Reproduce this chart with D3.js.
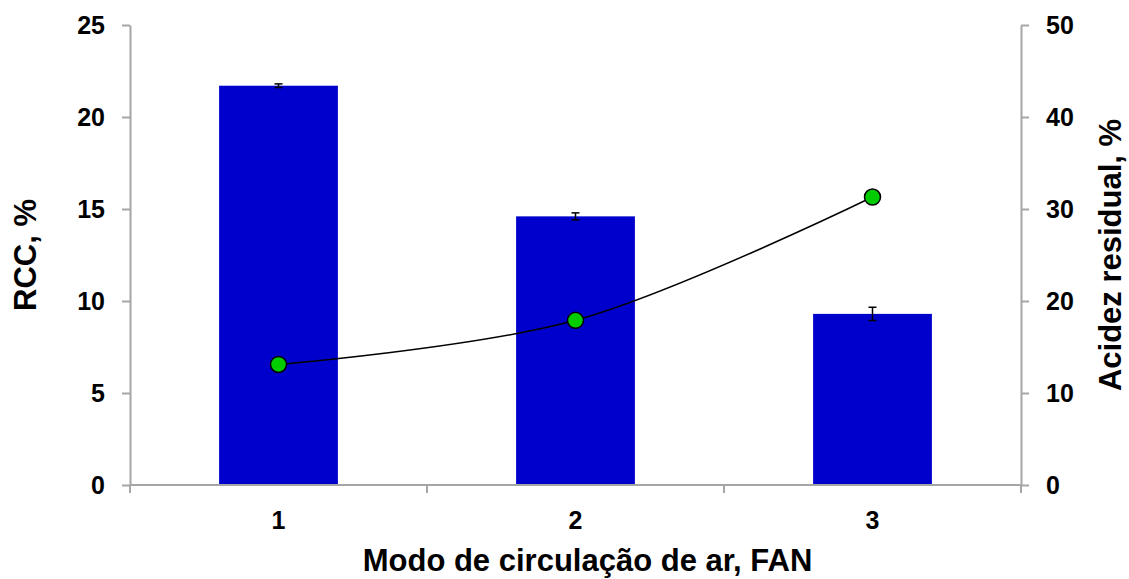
<!DOCTYPE html>
<html>
<head>
<script src="https://d3js.org/d3.v7.min.js"></script>
<style>
  body { margin: 0; background: #fff; font-family: "Liberation Sans", Arial, sans-serif; }
  .axis text { font-family: "Liberation Sans", Arial, sans-serif; font-weight: bold; font-size: 25px; fill: #000; }
  .axis path, .axis line { stroke: #a6a6a6; stroke-width: 2; }
</style>
</head>
<body>
<svg id="chart" width="1129" height="579"></svg>
<script>
// data
const modes = ["1", "2", "3"];
const rcc = [21.7, 14.6, 9.3];
const rccErr = [0.1, 0.19, 0.36];
const acidez = [13.1, 17.9, 31.3];
const leftTicks = [0, 5, 10, 15, 20, 25];
const rightTicks = [0, 10, 20, 30, 40, 50];

const svg = d3.select("#chart");
const pLeft = 130, pRight = 1021, pTop = 25, pBottom = 485;

const x = d3.scaleBand().domain(modes).range([pLeft, pRight]).padding(0);
const yL = d3.scaleLinear().domain([0, 25]).range([pBottom, pTop]);
const yR = d3.scaleLinear().domain([0, 50]).range([pBottom, pTop]);

// bars
const barW = x.bandwidth() * 0.4;
svg.append("g").selectAll("rect").data(rcc).enter().append("rect")
  .attr("x", (d, i) => x(modes[i]) + (x.bandwidth() - barW) / 2)
  .attr("y", d => yL(d))
  .attr("width", barW)
  .attr("height", d => pBottom - yL(d))
  .attr("fill", "#0000cc");

// error bars
const eb = svg.append("g").attr("stroke", "#000").attr("stroke-width", 1.5);
rcc.forEach((d, i) => {
  const cx = x(modes[i]) + x.bandwidth() / 2;
  eb.append("line").attr("x1", cx).attr("x2", cx).attr("y1", yL(d + rccErr[i])).attr("y2", yL(d - rccErr[i]));
  eb.append("line").attr("x1", cx - 4).attr("x2", cx + 4).attr("y1", yL(d + rccErr[i])).attr("y2", yL(d + rccErr[i]));
  eb.append("line").attr("x1", cx - 4).attr("x2", cx + 4).attr("y1", yL(d - rccErr[i])).attr("y2", yL(d - rccErr[i]));
});

// axes
svg.append("g").attr("class", "axis")
  .attr("transform", `translate(${pLeft},0)`)
  .call(d3.axisLeft(yL).tickValues(leftTicks).tickSize(8).tickSizeOuter(0).tickPadding(17));

svg.append("g").attr("class", "axis")
  .attr("transform", `translate(${pRight},0)`)
  .call(d3.axisRight(yR).tickValues(rightTicks).tickSize(8).tickSizeOuter(0).tickPadding(17));

const xAxis = svg.append("g").attr("class", "axis")
  .attr("transform", `translate(0,${pBottom})`);
xAxis.append("line").attr("x1", pLeft).attr("x2", pRight).attr("y1", 0).attr("y2", 0);
const bounds = [pLeft].concat(modes.map(m => x(m) + x.bandwidth()));
xAxis.selectAll(".bt").data(bounds).enter().append("line")
  .attr("x1", d => d).attr("x2", d => d).attr("y1", 0).attr("y2", 8);
xAxis.selectAll(".lbl").data(modes).enter().append("text")
  .attr("x", d => x(d) + x.bandwidth() / 2)
  .attr("y", 44)
  .attr("text-anchor", "middle")
  .text(d => d);

// line series on right axis
const pts = acidez.map((v, i) => [x(modes[i]) + x.bandwidth() / 2, yR(v)]);
svg.append("path")
  .attr("d", d3.line().curve(d3.curveCatmullRom.alpha(0.5))(pts))
  .attr("fill", "none").attr("stroke", "#000").attr("stroke-width", 1.5);
svg.append("g").selectAll("circle").data(pts).enter().append("circle")
  .attr("cx", d => d[0]).attr("cy", d => d[1]).attr("r", 8)
  .attr("fill", "#00cc00").attr("stroke", "#000").attr("stroke-width", 1.5);

// titles
const tstyle = s => s.attr("font-weight", "bold").attr("font-size", "31px")
  .attr("font-family", "Liberation Sans, Arial, sans-serif").attr("text-anchor", "middle");
svg.append("text").call(tstyle)
  .attr("transform", `translate(36,${(pTop + pBottom) / 2}) rotate(-90)`)
  .text("RCC, %");
svg.append("text").call(tstyle)
  .attr("transform", `translate(1121,${(pTop + pBottom) / 2}) rotate(-90)`)
  .text("Acidez residual, %");
svg.append("text").call(tstyle)
  .attr("x", (pLeft + pRight) / 2 + 12).attr("y", 571)
  .text("Modo de circulação de ar, FAN");
</script>
</body>
</html>
